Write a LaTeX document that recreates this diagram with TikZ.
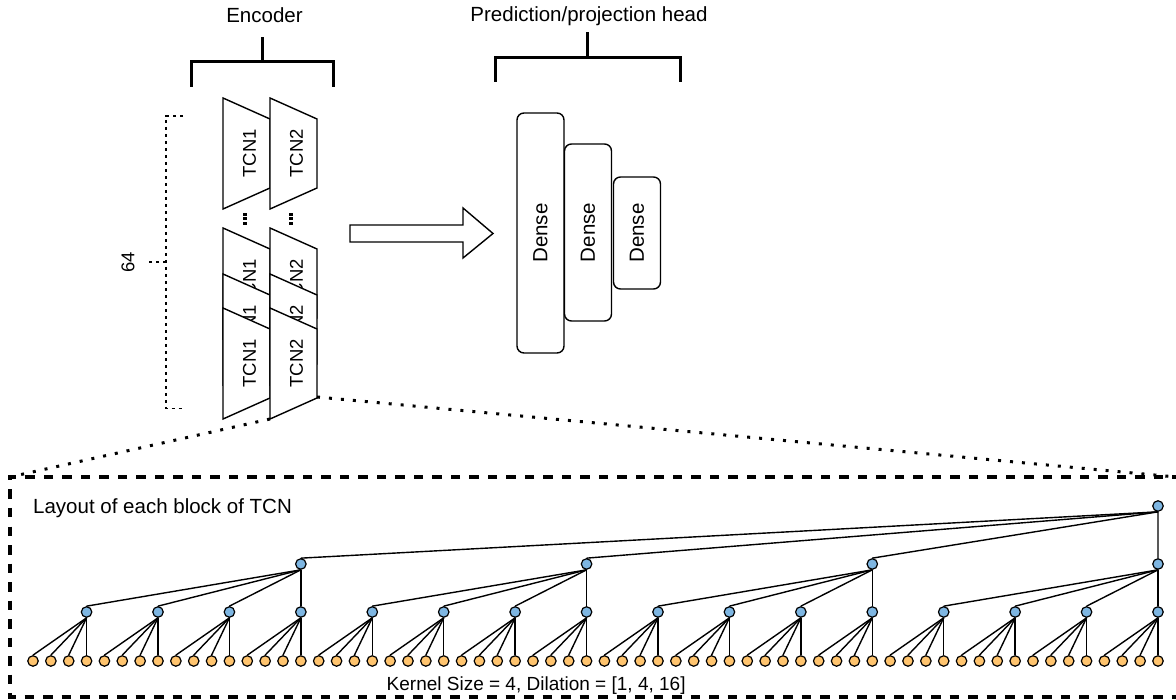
\documentclass[tikz,border=0pt]{standalone}
\usepackage{fontspec}
\setmainfont{Liberation Sans}
\pgfdeclarelayer{bg}
\pgfsetlayers{bg,main}
\definecolor{nodeblue}{RGB}{126,182,226}
\definecolor{nodeorange}{RGB}{255,196,110}
\begin{document}
\begin{tikzpicture}[x=1pt,y=-1pt,
  leaf/.style={circle,draw,fill=nodeorange,minimum size=10.5pt,inner sep=0pt,line width=1.2pt},
  hid/.style={circle,draw,fill=nodeblue,minimum size=10.5pt,inner sep=0pt,line width=1.2pt},
  conn/.style={line width=1.4pt},
  trap/.style={draw,fill=white,line width=1.4pt,line join=miter},
  lbl/.style={inner sep=0pt,font=\fontsize{20.5}{24}\selectfont},
  tcnlbl/.style={inner sep=0pt,rotate=90,font=\fontsize{18.5}{22}\selectfont},
  densebox/.style={draw,fill=white,rounded corners=7pt,line width=1.4pt,rotate=90,
     font=\fontsize{20.5}{24}\selectfont,inner sep=0pt,minimum height=47pt},
  bracket/.style={line width=3pt},
  thindash/.style={line width=1.2pt,dash pattern=on 3.5pt off 3.5pt},
  dotline/.style={line width=3pt,dash pattern=on 3pt off 9pt},
  boxdash/.style={line width=3.4pt,dash pattern=on 9.5pt off 9pt}
]
\useasboundingbox (0,0) rectangle (1176,700);
\clip (0,0) rectangle (1176,700);

% ---- titles and brackets
\node[lbl,anchor=base] (enc) at (264.5,23) {Encoder};
\node[lbl,anchor=base] (pred) at (589,22) {Prediction/projection head};
\draw[bracket] (191,87) -- (191,62) -- (333,62) -- (333,87);
\draw[bracket] (262,62) -- (262,37);
\draw[bracket] (495,82) -- (495,57.5) -- (680,57.5) -- (680,82);
\draw[bracket] (587.5,57.5) -- (587.5,32);

% ---- 64 bracket
\draw[thindash] (183,116) -- (166,116) -- (166,408.5) -- (183,408.5);
\draw[thindash] (166,262) -- (149,262);
\node[lbl,rotate=90,font=\fontsize{18.5}{22}\selectfont] (n64) at (128,262) {64};

% ---- encoder trapezoids
\foreach \c in {0,1} {
  \pgfmathsetmacro\xa{223+47*\c}
  \pgfmathsetmacro\xb{\xa+47}
  \pgfmathsetmacro\xt{\xa+26.5}
  \pgfmathtruncatemacro\n{\c+1}
  \foreach \y [count=\r] in {98,228,274,308} {
    \draw[trap] (\xa,\y) -- (\xb,\y+21) -- (\xb,\y+90) -- (\xa,\y+111) -- cycle;
    \node[tcnlbl] (tcn\n-\r) at (\xt,\y+55.5) {TCN\n};
  }
}
% vertical dots
\foreach \x in {245,291} {
  \foreach \y in {214.7,218.9,223.1} {
    \fill (\x-2,\y-1.5) rectangle (\x+2,\y+1.5);
  }
}

% ---- block arrow
\draw[line width=1.4pt,line join=miter,fill=white] (350,225) -- (463,225) -- (463,208) -- (493,233.5)
   -- (463,258) -- (463,242) -- (350,242) -- cycle;

% ---- dense boxes
\node[densebox,minimum width=240pt] (d1) at (540.5,233) {Dense};
\node[densebox,minimum width=177pt] (d2) at (588,232.5) {Dense};
\node[densebox,minimum width=112pt] (d3) at (637,233) {Dense};

% ---- dashed box and dotted zoom lines
\draw[boxdash] (1200,477) -- (10,477) -- (10,697) -- (1200,697);
\coordinate (zl) at (270,419);
\coordinate (zr) at (317,397);
\coordinate (bl) at (10,477);
\coordinate (br) at (1176,477);
\draw[dotline] (zl) -- (bl);
\draw[dotline] (zr) -- (br);

\node[lbl,anchor=base west] (layout) at (33,514) {Layout of each block of TCN};
\node[lbl,anchor=base west,font=\fontsize{19}{22}\selectfont] (kern) at (386.5,690.5) {Kernel Size = 4, Dilation = [1, 4, 16]};

% ---- TCN tree
\foreach \i in {0,...,63} {
  \node[leaf] (l\i) at ({33+\i*17.857},661) {};
}
\foreach \j in {0,...,15} {
  \node[hid] (a\j) at ({33+(4*\j+3)*17.857},612) {};
}
\foreach \k in {0,...,3} {
  \node[hid] (b\k) at ({33+(16*\k+15)*17.857},564) {};
}
\node[hid] (top) at (1158,506) {};
\begin{pgfonlayer}{bg}
\foreach \i in {0,...,63} {
  \pgfmathtruncatemacro\p{int(\i/4)}
  \draw[conn] (l\i.north) -- (a\p.south);
}
\foreach \j in {0,...,15} {
  \pgfmathtruncatemacro\p{int(\j/4)}
  \draw[conn] (a\j.north) -- (b\p.south);
}
\foreach \k in {0,...,3} {
  \draw[conn] (b\k.north) -- (top.south);
}
\end{pgfonlayer}
\end{tikzpicture}
\end{document}
